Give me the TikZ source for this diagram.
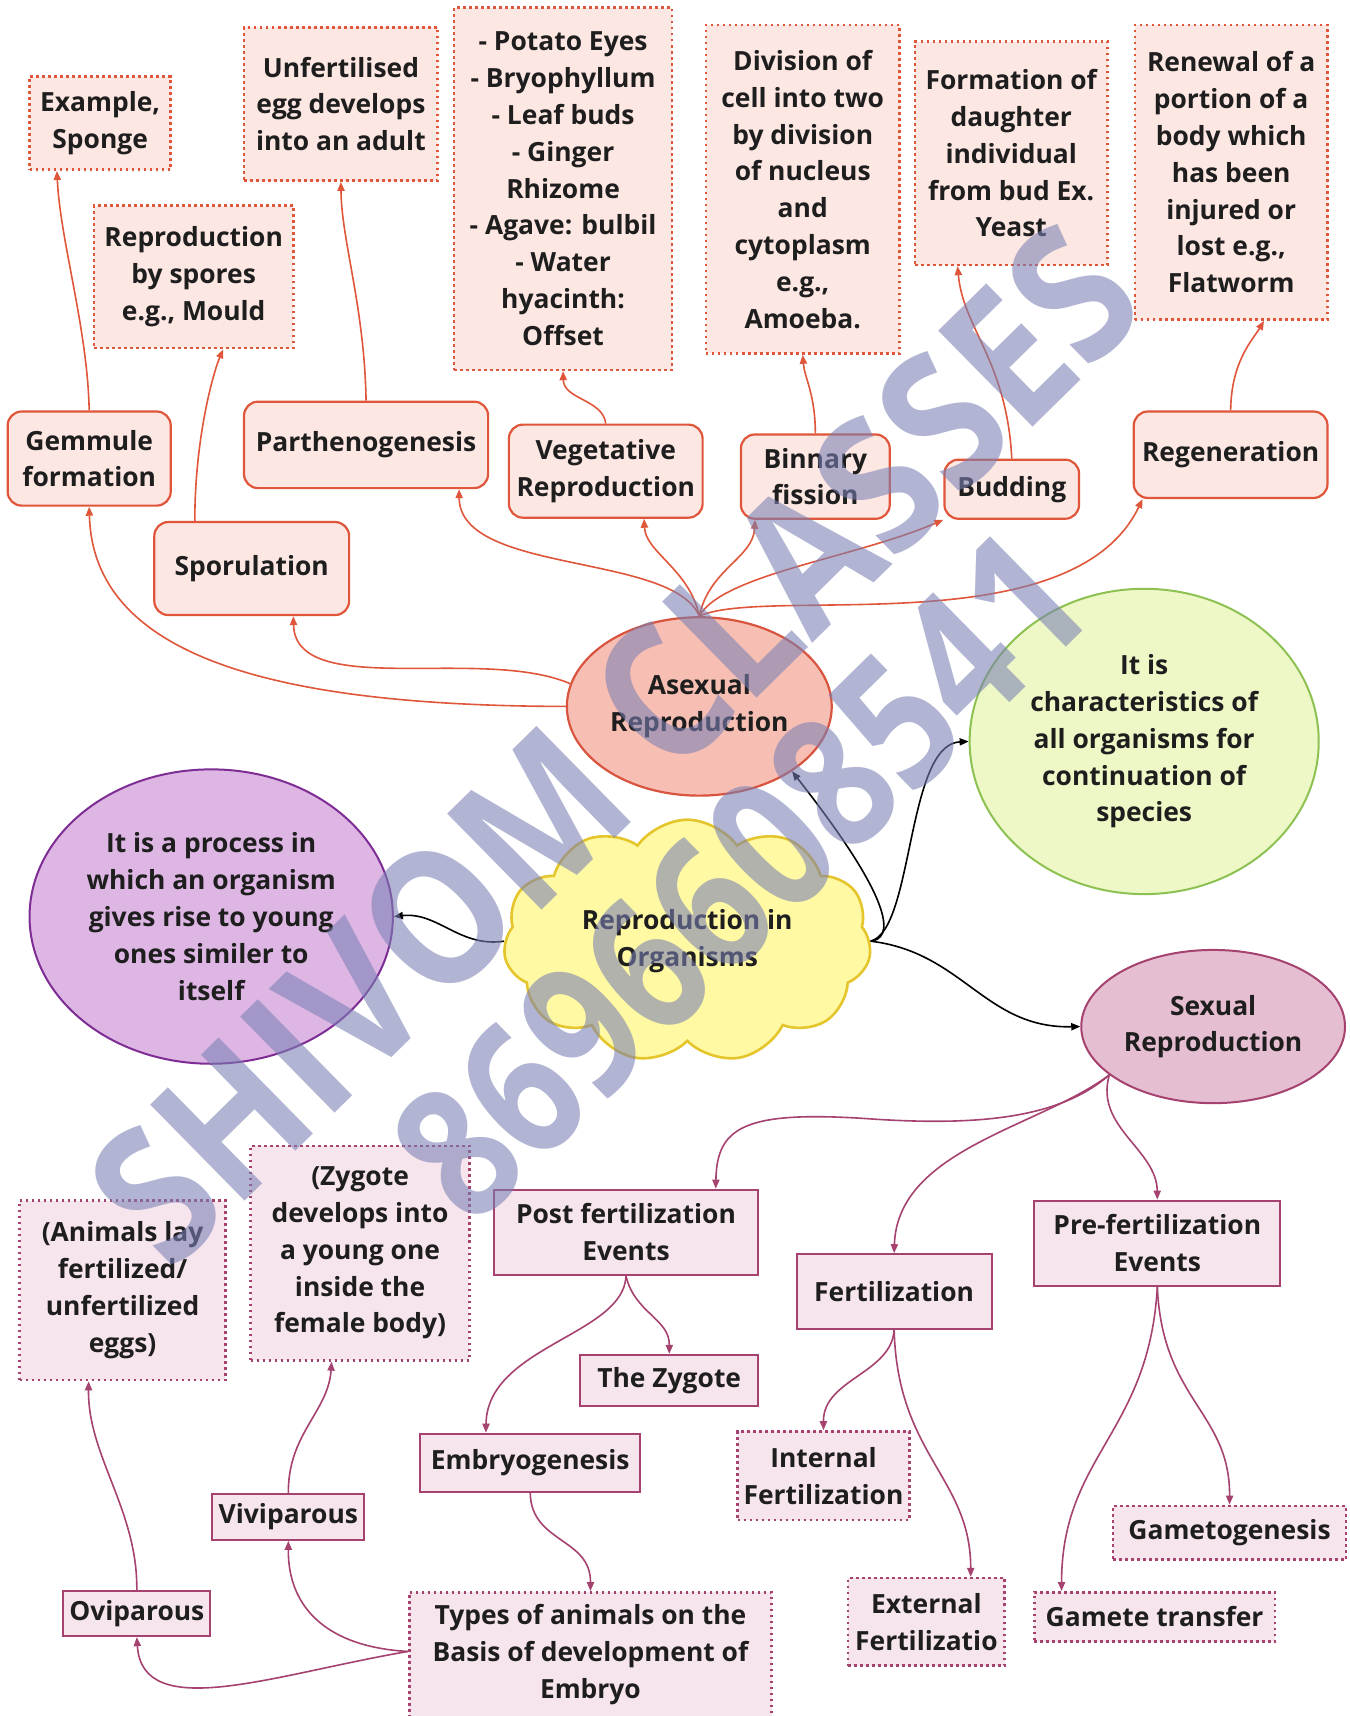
\documentclass[tikz,border=0pt]{standalone}
\usepackage{fontspec}
\usepackage{graphicx}
\setmainfont{Open Sans}
\usetikzlibrary{shapes.geometric,shapes.symbols,arrows.meta,calc}
\definecolor{ared}{HTML}{E0563B}
\definecolor{afill}{HTML}{FDE7E3}
\definecolor{asxfill}{HTML}{F7BFB3}
\definecolor{asxline}{HTML}{D8543E}
\definecolor{mag}{HTML}{A5426F}
\definecolor{mfill}{HTML}{F7E5EE}
\definecolor{sexfill}{HTML}{E6BED2}
\definecolor{grnfill}{HTML}{EEF8C6}
\definecolor{grnline}{HTML}{8DC152}
\definecolor{purfill}{HTML}{DEB6E4}
\definecolor{purline}{HTML}{7E2D94}
\definecolor{cldfill}{HTML}{FFF9A3}
\definecolor{cldline}{HTML}{E5C52C}
\definecolor{wm}{HTML}{7A80B4}
\definecolor{txt}{HTML}{1E1E1E}
\tikzset{
  sz/.style 2 args={minimum width=#1*0.547pt, minimum height=#2*0.547pt},
  base/.style={font=\bfseries\fontsize{13.2}{18.4}\selectfont, align=center, inner sep=0pt, text=txt},
  adot/.style={base, draw=ared, fill=afill, line width=1.3pt, dash pattern=on 1.3pt off 1.7pt},
  arnd/.style={base, draw=ared, fill=afill, line width=1.1pt, rounded corners=7pt},
  mbox/.style={base, draw=mag, fill=mfill, line width=1pt},
  mdot/.style={base, draw=mag, fill=mfill, line width=1.3pt, dash pattern=on 1.3pt off 1.7pt},
  tipa/.style={-{Triangle[length=4.5pt,width=3.6pt]}},
  aarr/.style={draw=ared, line width=0.8pt, tipa},
  marr/.style={draw=mag, line width=0.8pt, tipa},
  karr/.style={draw=black, line width=0.8pt, tipa},
  wmark/.style={text=wm, opacity=0.58, inner sep=0pt}
}
\begin{document}
\begin{tikzpicture}[x=0.547pt, y=-0.547pt]
\useasboundingbox (0,0) rectangle (1233,1568);
\fill[white] (0,0) rectangle (1233,1568);

% ---- top dotted boxes
\node[adot, sz={129}{85}] (ex) at (91.5,112.5) {Example,\\Sponge};
\node[adot, sz={177}{140}] (unf) at (311.5,95) {Unfertilised\\egg develops\\into an adult};
\node[adot, sz={199}{331}] (vl) at (514.5,172.5) {- Potato Eyes\\- Bryophyllum\\- Leaf buds\\- Ginger\\Rhizome\\- Agave: bulbil\\- Water\\hyacinth:\\Offset};
\node[adot, sz={177}{300}] (div) at (733.5,173) {Division of\\cell into two\\by division\\of nucleus\\and\\cytoplasm\\e.g.,\\Amoeba.};
\node[adot, sz={176}{204}] (form) at (924,140) {Formation of\\daughter\\individual\\from bud Ex.\\Yeast};
\node[adot, sz={176}{269}] (ren) at (1125,157.5) {Renewal of a\\portion of a\\body which\\has been\\injured or\\lost e.g.,\\Flatworm};
\node[adot, sz={182}{130}] (spr) at (177,253) {Reproduction\\by spores\\e.g., Mould};

% ---- rounded boxes
\node[arnd, sz={149}{86}] (gem) at (81.5,419) {Gemmule\\formation};
\node[arnd, sz={223}{79}] (par) at (334.5,406.5) {Parthenogenesis};
\node[arnd, sz={177}{85}] (vegr) at (553.5,430.5) {Vegetative\\Reproduction};
\node[arnd, sz={136}{77}] (bin) at (745,435.5) {Binnary\\fission};
\node[arnd, sz={123}{54}] (bud) at (924.5,447) {Budding};
\node[arnd, sz={177}{79}] (reg) at (1124.5,415.5) {Regeneration};
\node[arnd, sz={178}{85}] (spo) at (230,519.5) {Sporulation};

% ---- central shapes
\node[base, ellipse, draw=asxline, fill=asxfill, line width=1.1pt, sz={242}{163}] (asx) at (639,645.5) {Asexual\\Reproduction};
\node[base, ellipse, draw=grnline, fill=grnfill, line width=1pt, sz={319}{279}] (grn) at (1045.5,677.5) {It is\\characteristics of\\all organisms for\\continuation of\\species};
\node[base, ellipse, draw=purline, fill=purfill, line width=1pt, sz={332}{269}] (pur) at (193,837.5) {It is a process in\\which an organism\\gives rise to young\\ones similer to\\itself};
\node[base, cloud, cloud puffs=11, cloud puff arc=110, cloud ignores aspect, draw=cldline, fill=cldfill, line width=1.3pt, sz={336}{222}] (rio) at (628,860) {Reproduction in\\Organisms};
\node[base, ellipse, draw=mag, fill=sexfill, line width=1pt, sz={241}{140}] (sex) at (1108.5,938) {Sexual\\Reproduction};

% ---- bottom boxes
\node[mbox, sz={242}{78}] (post) at (572,1126) {Post fertilization\\Events};
\node[mbox, sz={178}{68}] (fert) at (817,1180) {Fertilization};
\node[mbox, sz={225}{78}] (pre) at (1057.5,1136) {Pre-fertilization\\Events};
\node[mbox, sz={163}{47}] (zyg) at (611.5,1261.5) {The Zygote};
\node[mbox, sz={201}{53}] (emb) at (484.5,1336.5) {Embryogenesis};
\node[mdot, sz={157}{81}] (int) at (752.5,1348.5) {Internal\\Fertilization};
\node[mdot, sz={143}{80}] (ext) at (846.5,1482) {External\\Fertilizatio};
\node[mdot, sz={213}{49}] (gmg) at (1123.5,1400.5) {Gametogenesis};
\node[mdot, sz={220}{45}] (gtr) at (1055,1477.5) {Gamete transfer};
\node[mdot, sz={331}{114}] (types) at (539.5,1512) {Types of animals on the\\Basis of development of\\Embryo};
\node[mbox, sz={134}{41}] (ovi) at (125,1474.5) {Oviparous};
\node[mbox, sz={139}{42}] (viv) at (263.5,1386) {Viviparous};
\node[mdot, sz={188}{164}] (ani) at (112,1179) {(Animals lay\\fertilized/\\unfertilized\\eggs)};
\node[mdot, sz={200}{196}] (zdev) at (329,1145) {(Zygote\\develops into\\a young one\\inside the\\female body)};

% ---- asexual connectors
\draw[aarr] (asx.west) .. controls (250,645) and (85,600) .. (gem.south);
\draw[aarr] (asx.170) .. controls (440,590) and (270,640) .. ($(spo.south)+(38,0)$);
\draw[aarr] (asx.north) .. controls (615,505) and (420,525) .. ($(par.south)+(85,0)$);
\draw[aarr] (asx.north) .. controls (630,520) and (590,505) .. ($(vegr.south)+(35,0)$);
\draw[aarr] (asx.north) .. controls (648,520) and (688,510) .. ($(bin.south)+(-55,0)$);
\draw[aarr] (asx.north) .. controls (660,525) and (780,510) .. (bud.south west);
\draw[aarr] (asx.north) .. controls (700,535) and (980,590) .. ($(reg.south west)+(9,0)$);

\draw[aarr] (gem.north) .. controls (80,300) and (55,220) .. ($(ex.south)+(-39.5,0)$);
\draw[aarr] ($(spo.north)+(-52,0)$) .. controls (178,400) and (195,340) .. ($(spr.south)+(27,0)$);
\draw[aarr] (par.north) .. controls (333,280) and (312,220) .. (unf.south);
\draw[aarr] (vegr.north) .. controls (551,365) and (515,365) .. (vl.south);
\draw[aarr] (bin.north) .. controls (745,360) and (735,345) .. (div.south);
\draw[aarr] (bud.north) .. controls (920,330) and (880,300) .. ($(form.south)+(-49,0)$);
\draw[aarr] (reg.north) .. controls (1125,330) and (1145,310) .. ($(ren.south)+(30,0)$);

% ---- black connectors
\draw[karr] (rio.west) .. controls (420,866) and (400,833) .. (pur.east);
\draw[karr] (rio.east) .. controls (815,858) and (822,830) .. (asx.-35);
\draw[karr] (rio.east) .. controls (835,850) and (828,680) .. (grn.west);
\draw[karr] (rio.east) .. controls (880,870) and (900,940) .. (sex.west);

% ---- sexual connectors
\draw[marr] (sex.-155) .. controls (970,1020) and (900,1030) .. (790,1022) .. controls (680,1015) and (655,1030) .. ($(post.north)+(82,0)$);
\draw[marr] (sex.-155) .. controls (950,1030) and (820,1050) .. (fert.north);
\draw[marr] (sex.-155) .. controls (1000,1030) and (1057,1050) .. (pre.north);
\draw[marr] (post.south) .. controls (570,1220) and (445,1230) .. ($(emb.north)+(-40.5,0)$);
\draw[marr] (post.south) .. controls (580,1200) and (612,1205) .. (zyg.north);
\draw[marr] (fert.south) .. controls (815,1255) and (752,1260) .. (int.north);
\draw[marr] (fert.south) .. controls (820,1330) and (887,1350) .. ($(ext.north)+(40.5,0)$);
\draw[marr] (pre.south) .. controls (1050,1310) and (970,1330) .. ($(gtr.north)+(-85,0)$);
\draw[marr] (pre.south) .. controls (1062,1280) and (1124,1290) .. (gmg.north);
\draw[marr] (emb.south) .. controls (485,1410) and (540,1405) .. (types.north);
\draw[marr] ($(types.west)+(0,-3)$) .. controls (300,1505) and (263,1470) .. (viv.south);
\draw[marr] ($(types.west)+(0,-3)$) .. controls (250,1530) and (130,1575) .. (ovi.south);
\draw[marr] (viv.north) .. controls (263,1310) and (300,1290) .. ($(zdev.south)+(-26,0)$);
\draw[marr] (ovi.north) .. controls (126,1380) and (80,1330) .. ($(ani.south)+(-31,0)$);

% ---- watermark
\node[wmark, rotate=44.5] (wm1) at (561,680) {\scalebox{1}[1.15]{\bfseries\fontsize{82}{90}\selectfont SHIVOM CLASSES}};
\node[wmark, rotate=44.5] (wm2) at (676,800) {\scalebox{1}[1.2]{\bfseries\fontsize{77}{90}\selectfont 8696608541}};
\end{tikzpicture}
\end{document}
